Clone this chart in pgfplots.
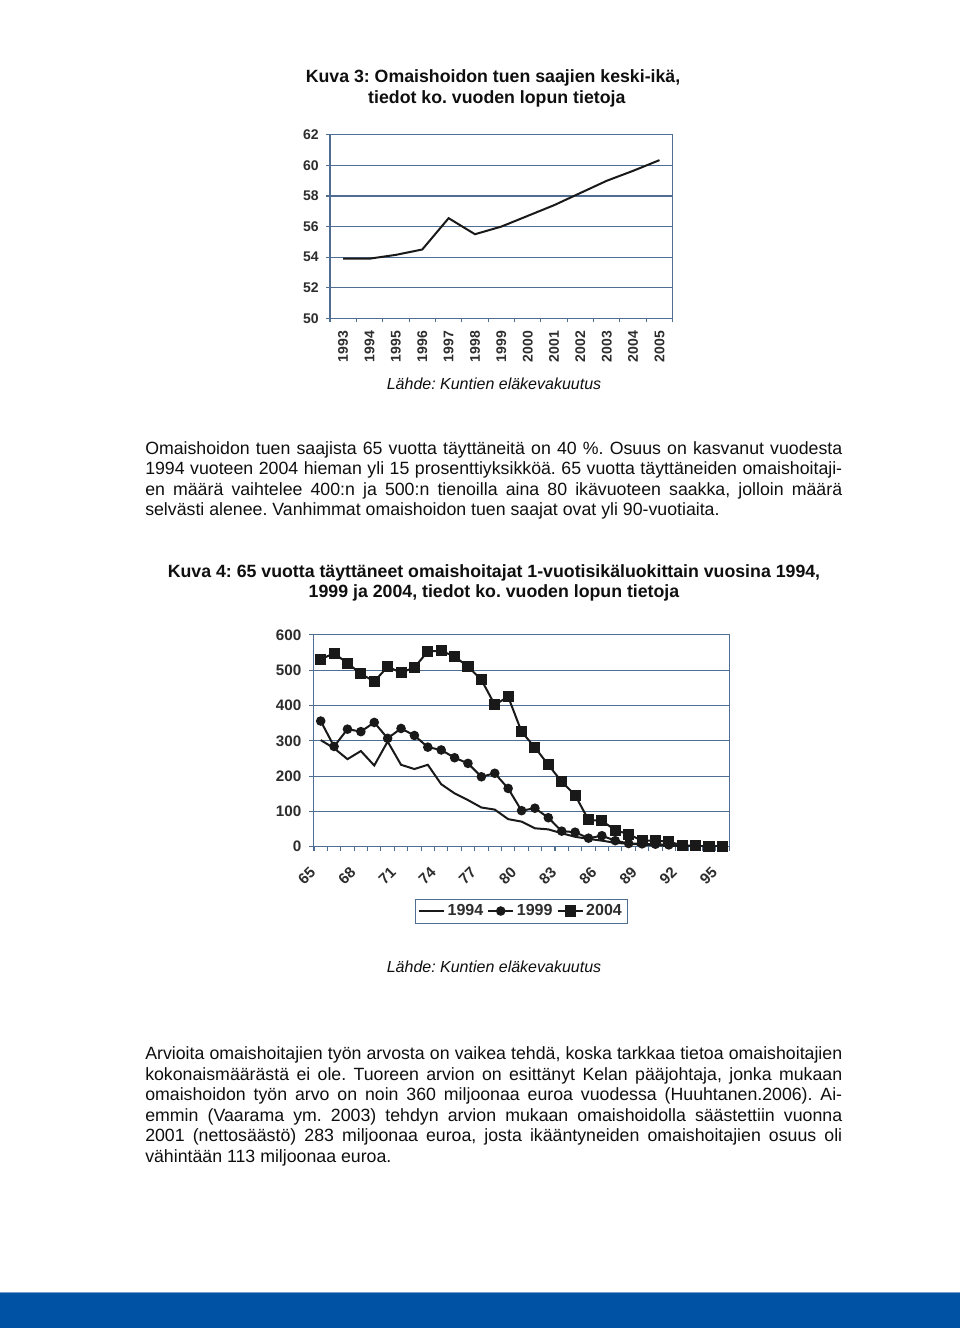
\documentclass[border=0pt]{standalone}
\usepackage{pgfplots}
\pgfplotsset{compat=1.18}
\usepackage{fontspec}
\setmainfont{Liberation Sans}
\frenchspacing
\definecolor{gridc}{RGB}{80,110,145}
\definecolor{barblue}{RGB}{0,82,165}
\definecolor{txt}{RGB}{15,15,15}
\definecolor{ticktxt}{RGB}{45,45,45}
\definecolor{linec}{RGB}{25,25,25}
\newcommand{\bodyfont}{\fontsize{13.3}{16}\selectfont}
\newcommand{\tickfont}{\bfseries\fontsize{10.5}{12}\selectfont}
\newcommand{\tickfontb}{\bfseries\fontsize{11.4}{13}\selectfont}
\newcommand{\jline}[1]{\makebox[522.75pt][s]{#1}}
\begin{document}
\begin{tikzpicture}
\path[use as bounding box, fill=white] (0,0) rectangle (720pt,996pt);
\fill[barblue] (0,0) rectangle (720pt,26.25pt);
\draw[barblue!55!white, line width=0.6pt] (0,26.5pt) -- (720pt,26.5pt);

% ---------- Chart 1 ----------
\node[font=\bfseries\fontsize{13.3}{16}\selectfont, text=txt, anchor=base] at (369.75pt,934pt) {Kuva 3: Omaishoidon tuen saajien keski-ikä,};
\node[font=\bfseries\fontsize{13.3}{16}\selectfont, text=txt, anchor=base] at (372.6pt,918.5pt) {tiedot ko. vuoden lopun tietoja};

\begin{axis}[
  at={(247.5pt,757.3pt)}, anchor=south west,
  width=257pt, height=137.5pt, scale only axis,
  xmin=1992.5, xmax=2005.5, ymin=50, ymax=62,
  ytick={50,52,...,62},
  xtick={1993,1994,1995,1996,1997,1998,1999,2000,2001,2002,2003,2004,2005},
  xticklabels={1993,1994,1995,1996,1997,1998,1999,2000,2001,2002,2003,2004,2005},
  minor xtick={1992.5,1993.5,...,2005.5},
  major x tick style={draw=none},
  tick align=outside, tick pos=left,
  major tick length=3pt, minor tick length=3pt,
  every tick/.style={gridc, line width=0.8pt},
  ymajorgrids, grid style={gridc, line width=0.8pt},
  axis line style={gridc, line width=0.8pt},
  xticklabel style={yshift=-3pt, rotate=90, anchor=east, font=\tickfont, text=ticktxt},
  yticklabel style={xshift=-2pt, font=\tickfont, text=ticktxt},
  /pgf/number format/assume math mode=true,
]
\addplot[linec, line width=1.5pt] coordinates {
(1993,53.9) (1994,53.9) (1995,54.15) (1996,54.5) (1997,56.55) (1998,55.5)
(1999,56.0) (2000,56.7) (2001,57.4) (2002,58.2) (2003,59.0) (2004,59.65) (2005,60.35)};
\end{axis}

\node[font=\itshape\fontsize{12}{14}\selectfont, text=txt] at (370.5pt,708pt) {Lähde: Kuntien eläkevakuutus};

% ---------- Paragraph 1 ----------
\begin{scope}[every node/.style={anchor=base west, inner sep=0pt, font=\bodyfont, text=txt}]
\node at (108.75pt,655.1pt) {\jline{Omaishoidon tuen saajista 65 vuotta täyttäneitä on 40 \%. Osuus on kasvanut vuodesta}};
\node at (108.75pt,639.9pt) {\jline{1994 vuoteen 2004 hieman yli 15 prosenttiyksikköä. 65 vuotta täyttäneiden omaishoitaji-}};
\node at (108.75pt,624.7pt) {\jline{en määrä vaihtelee 400:n ja 500:n tienoilla aina 80 ikävuoteen saakka, jolloin määrä}};
\node at (108.75pt,609.4pt) {selvästi alenee. Vanhimmat omaishoidon tuen saajat ovat yli 90-vuotiaita.};
\end{scope}

% ---------- Chart 2 ----------
\node[font=\bfseries\fontsize{13.3}{16}\selectfont, text=txt, anchor=base] at (370.5pt,563pt) {Kuva 4: 65 vuotta täyttäneet omaishoitajat 1-vuotisikäluokittain vuosina 1994,};
\node[font=\bfseries\fontsize{13.3}{16}\selectfont, text=txt, anchor=base] at (370.5pt,548pt) {1999 ja 2004, tiedot ko. vuoden lopun tietoja};

\begin{axis}[
  at={(235pt,361pt)}, anchor=south west,
  width=311.8pt, height=158.8pt, scale only axis,
  xmin=64.45, xmax=95.5, ymin=0, ymax=600,
  ytick={0,100,...,600},
  xtick={65,68,...,95},
  minor xtick={64.5,65.5,...,95.5},
  major x tick style={draw=none},
  tick align=outside, tick pos=left,
  major tick length=3pt, minor tick length=3pt,
  every tick/.style={gridc, line width=0.8pt},
  ymajorgrids, grid style={gridc, line width=0.8pt},
  axis line style={gridc, line width=0.8pt},
  xticklabel style={xshift=-3.5pt, yshift=-12pt, rotate=45, anchor=east, font=\tickfontb, text=ticktxt},
  yticklabel style={xshift=-2.5pt, font=\tickfontb, text=ticktxt},
  /pgf/number format/assume math mode=true,
  legend style={at={(0.5,-0.304)}, anchor=center, draw=gridc, line width=0.6pt,
     font=\bfseries\fontsize{12}{14}\selectfont, text=ticktxt, inner sep=2pt, row sep=0pt},
  legend columns=3,
  legend cell align=left,
  legend image code/.code={\draw[#1] (0cm,0cm) -- (0.66cm,0cm); \draw[#1, mark repeat=2, mark phase=2] plot coordinates {(0cm,0cm) (0.33cm,0cm) (0.66cm,0cm)};},
  /tikz/every even column/.append style={column sep=1pt},
  /tikz/every odd column/.append style={column sep=0pt},
]
\addplot[linec, line width=1.5pt, no marks] coordinates {
(65,302) (66,279) (67,248) (68,271) (69,230) (70,298) (71,232) (72,220) (73,232)
(74,177) (75,151) (76,132) (77,111) (78,105) (79,78) (80,71) (81,52) (82,49)
(83,38) (84,28) (85,22) (86,17) (87,11) (88,8) (89,6) (90,4) (91,3) (92,2)
(93,1) (94,1) (95,0)};
\addlegendentry{1994}
\addplot[linec, line width=1.5pt, mark=*, mark size=2.8pt, mark options={solid, fill=linec, draw=linec}] coordinates {
(65,356) (66,284) (67,333) (68,326) (69,352) (70,307) (71,335) (72,315) (73,282)
(74,274) (75,252) (76,236) (77,198) (78,208) (79,165) (80,102) (81,109) (82,82)
(83,44) (84,41) (85,24) (86,31) (87,17) (88,9) (89,8) (90,7) (91,5) (92,3)
(93,2) (94,1) (95,1)};
\addlegendentry{1999}
\addplot[linec, line width=1.5pt, mark=square*, mark size=3.4pt, mark options={solid, fill=linec, draw=linec}] coordinates {
(65,531) (66,548) (67,520) (68,490) (69,468) (70,510) (71,493) (72,508) (73,553)
(74,555) (75,539) (76,510) (77,473) (78,402) (79,425) (80,326) (81,281) (82,232)
(83,184) (84,146) (85,76) (86,73) (87,47) (88,35) (89,17) (90,17) (91,14) (92,4)
(93,2) (94,1) (95,1)};
\addlegendentry{2004}
\end{axis}

\node[font=\itshape\fontsize{12}{14}\selectfont, text=txt] at (370.5pt,270.75pt) {Lähde: Kuntien eläkevakuutus};

% ---------- Paragraph 2 ----------
\begin{scope}[every node/.style={anchor=base west, inner sep=0pt, font=\bodyfont, text=txt}]
\node at (108.75pt,201.4pt) {\jline{Arvioita omaishoitajien työn arvosta on vaikea tehdä, koska tarkkaa tietoa omaishoitajien}};
\node at (108.75pt,185.9pt) {\jline{kokonaismäärästä ei ole. Tuoreen arvion on esittänyt Kelan pääjohtaja, jonka mukaan}};
\node at (108.75pt,170.5pt) {\jline{omaishoidon työn arvo on noin 360 miljoonaa euroa vuodessa (Huuhtanen.2006). Ai-}};
\node at (108.75pt,155.0pt) {\jline{emmin (Vaarama ym. 2003) tehdyn arvion mukaan omaishoidolla säästettiin vuonna}};
\node at (108.75pt,139.6pt) {\jline{2001 (nettosäästö) 283 miljoonaa euroa, josta ikääntyneiden omaishoitajien osuus oli}};
\node at (108.75pt,124.1pt) {vähintään 113 miljoonaa euroa.};
\end{scope}
\end{tikzpicture}
\end{document}
